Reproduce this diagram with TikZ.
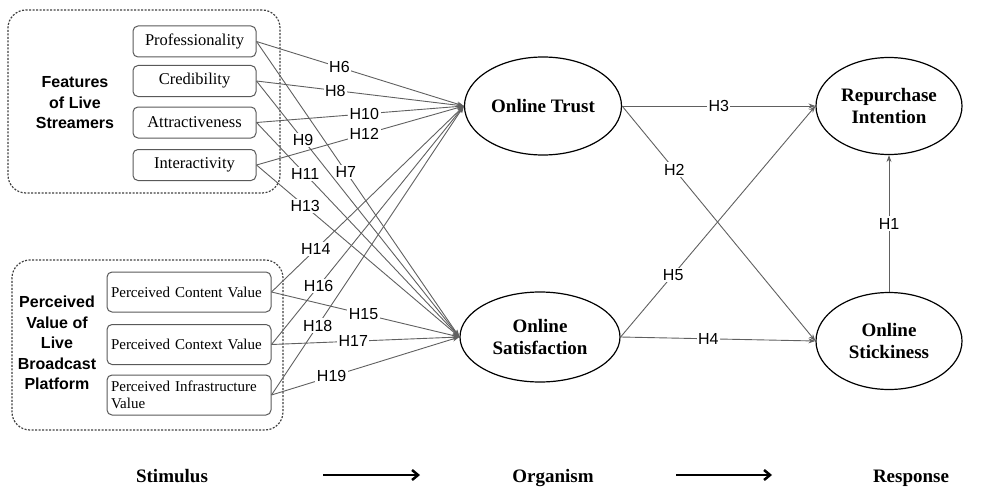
\documentclass[tikz,border=0pt]{standalone}
\usepackage{fontspec}
\setmainfont{Liberation Serif}
\setsansfont{Liberation Sans}
\usetikzlibrary{shapes.geometric,arrows.meta}
\begin{document}
\begin{tikzpicture}[x=1pt,y=-1pt,
    group/.style = {rectangle,draw=gray!50!black,line width=1.2pt,dash pattern=on 2pt off 1.5pt,rounded corners=18pt,inner sep=0pt},
    factor/.style = {rectangle,draw=gray!70!black,line width=1pt,rounded corners=5pt,minimum width=123pt,minimum height=31pt,inner sep=2pt,font=\fontsize{16.5}{18}\selectfont},
    pvalue/.style = {factor,minimum width=164pt,minimum height=40pt,text width=156pt,align=left,inner sep=4pt,font=\fontsize{15}{17}\selectfont},
    grouplab/.style = {align=center,font=\sffamily\bfseries\fontsize{16}{20.5}\selectfont},
    construct/.style = {ellipse,draw,line width=1.2pt,inner sep=0pt,minimum width=146pt,minimum height=97pt,align=center,font=\bfseries\fontsize{19}{22}\selectfont},
    hyp/.style = {draw=gray!75!black,line width=0.9pt,-{Stealth[length=7pt,width=5pt]}},
    hlab/.style = {fill=white,inner sep=1.5pt,font=\sffamily\fontsize{16}{18}\selectfont},
    stage/.style = {anchor=base,font=\bfseries\fontsize{19}{22}\selectfont},
    flow/.style = {line width=2.5pt,-{Straight Barb[length=6pt,width=10pt]}}]
\useasboundingbox (0,0) rectangle (991,487);

\node[group,minimum width=272pt,minimum height=183pt] (featbox) at (144,101.5) {};
\node[group,minimum width=271pt,minimum height=170pt] (pvbox) at (147.5,345) {};
\node[grouplab] (featlab) at (75,103) {Features\\of Live\\Streamers};
\node[grouplab] (pvlab) at (57,343) {Perceived\\Value of\\Live\\Broadcast\\Platform};

\node[factor] (prof) at (194.5,41.5) {Professionality};
\node[factor] (cred) at (194.5,81) {Credibility};
\node[factor] (attr) at (194.5,122.5) {Attractiveness};
\node[factor] (inter) at (194.5,165) {Interactivity};
\node[pvalue] (content) at (189,292) {Perceived Content Value};
\node[pvalue] (context) at (189,344.5) {Perceived Context Value};
\node[pvalue] (infra) at (189,395) {Perceived Infrastructure\\Value};

\node[construct,minimum width=157pt,minimum height=98pt] (trust) at (543,106) {Online Trust};
\node[construct,minimum width=160pt,minimum height=90pt] (sat) at (540,337) {Online\\Satisfaction};
\node[construct] (rep) at (889,106) {Repurchase\\Intention};
\node[construct] (stick) at (889,341) {Online\\Stickiness};

\foreach \s/\t/\p/\h in {prof/trust/0.40/H6, prof/sat/0.44/H7, cred/trust/0.38/H8, cred/sat/0.23/H9,
    attr/trust/0.52/H10, attr/sat/0.24/H11, inter/trust/0.52/H12, inter/sat/0.24/H13,
    content/trust/0.23/H14, content/sat/0.49/H15, context/trust/0.245/H16, context/sat/0.435/H17,
    infra/trust/0.24/H18, infra/sat/0.32/H19}
    \draw[hyp] (\s.east) -- node[pos=\p,hlab] (\h) {\h} (\t.west);

\draw[hyp] (trust.east) -- node[pos=0.5,hlab] (H3) {H3} (rep.west);
\draw[hyp] (trust.east) -- node[pos=0.27,hlab] (H2) {H2} (stick.west);
\draw[hyp] (sat.east) -- node[pos=0.27,hlab] (H5) {H5} (rep.west);
\draw[hyp] (sat.east) -- node[pos=0.45,hlab] (H4) {H4} (stick.west);
\draw[hyp] (stick.north) -- node[pos=0.5,hlab] (H1) {H1} (rep.south);

\node[stage] (stim) at (172,482) {Stimulus};
\node[stage] (org) at (553,482) {Organism};
\node[stage] (resp) at (911,482) {Response};
\coordinate (a1s) at (323,475);
\coordinate (a1e) at (420,475);
\coordinate (a2s) at (676,475);
\coordinate (a2e) at (772,475);
\draw[flow] (a1s) -- (a1e);
\draw[flow] (a2s) -- (a2e);
\end{tikzpicture}
\end{document}
